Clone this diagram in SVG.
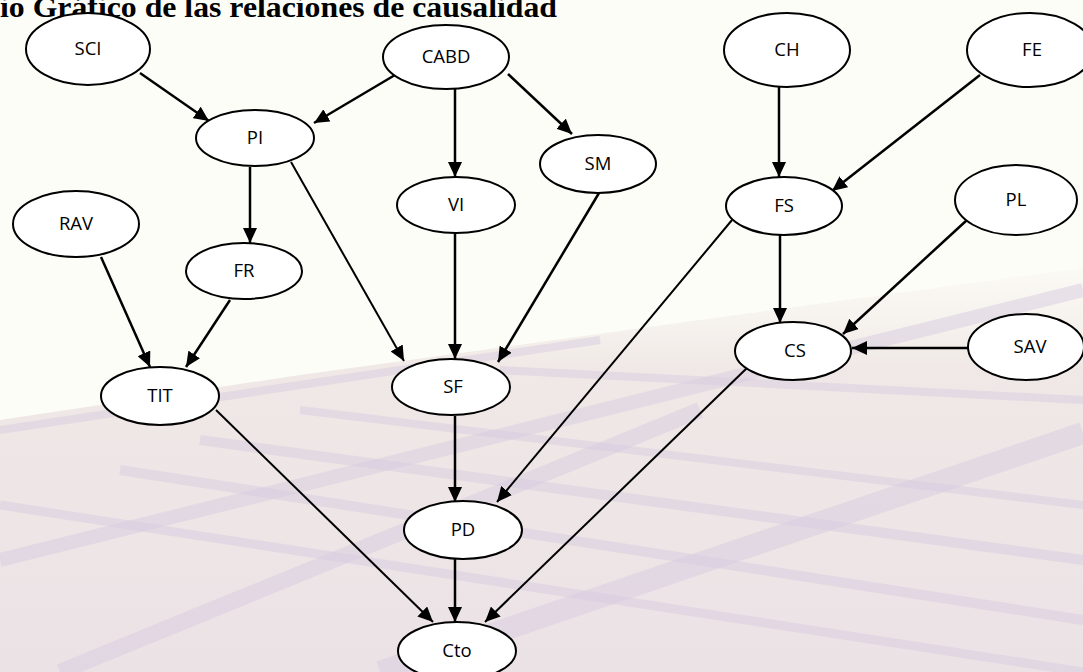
<svg xmlns="http://www.w3.org/2000/svg" width="1083" height="672" viewBox="0 0 1083 672">
<style>
.node ellipse{fill:#fff;stroke:#000;stroke-width:2}
.node text{font-family:"Open Sans","Noto Sans",sans-serif;font-size:18.5px;fill:#000;text-anchor:middle}
.edge{stroke:#000;stroke-width:2.5;fill:none;marker-end:url(#arr)}
.thin{stroke-width:2}
.band{fill:none;stroke:#d8cce0;stroke-opacity:0.5}
.title{font-family:"Liberation Serif","Times New Roman",serif;font-weight:bold;font-size:29px;fill:#000}
</style>
<defs>
<marker id="arr" markerUnits="userSpaceOnUse" markerWidth="16" markerHeight="14" refX="15" refY="7" orient="auto">
<path d="M0,0 L15,7 L0,14 z" fill="#000"/>
</marker>
<linearGradient id="fade" x1="0" y1="0" x2="0" y2="1">
<stop offset="0" stop-color="#f6f1ec" stop-opacity="0.3"/>
<stop offset="0.25" stop-color="#eee6e4" stop-opacity="0.9"/>
<stop offset="1" stop-color="#ebe2e6"/>
</linearGradient>
</defs>
<g id="background">
<rect x="0" y="0" width="1083" height="672" fill="#fdfdf8"/>
<polygon points="0,420 300,375 700,320 1083,268 1083,672 0,672" fill="url(#fade)"/>
<path class="band" stroke-width="22" d="M380,672 L1083,433"/>
<path class="band" stroke-width="14" d="M0,560 L1083,290"/>
<path class="band" stroke-width="10" d="M200,440 L1083,560"/>
<path class="band" stroke-width="10" d="M120,470 L1083,620"/>
<path class="band" stroke-width="8" d="M300,410 L1083,505"/>
<path class="band" stroke-width="8" d="M500,370 L1083,400"/>
<path class="band" stroke-width="9" d="M0,505 L1083,672"/>
<path class="band" stroke-width="16" d="M60,672 L700,410"/>
<path class="band" stroke-width="8" d="M0,430 L600,340"/>
</g>
<text class="title" x="0" y="17" textLength="557" lengthAdjust="spacingAndGlyphs">io Gráfico de las relaciones de causalidad</text>
<g id="connectors">
<line class="edge" x1="140" y1="73" x2="209" y2="121"/>
<line class="edge" x1="395" y1="75" x2="314" y2="123"/>
<line class="edge" x1="455" y1="89" x2="455" y2="177"/>
<line class="edge" x1="508" y1="74" x2="572" y2="134"/>
<line class="edge" x1="250" y1="167" x2="250" y2="243"/>
<line class="edge thin" x1="291" y1="162" x2="404" y2="361"/>
<line class="edge" x1="455" y1="234" x2="455" y2="359"/>
<line class="edge" x1="599" y1="193" x2="498" y2="362"/>
<line class="edge" x1="101" y1="257" x2="150" y2="367"/>
<line class="edge" x1="230" y1="300" x2="186" y2="367"/>
<line class="edge thin" x1="216" y1="410" x2="433" y2="622"/>
<line class="edge" x1="455" y1="416" x2="455" y2="502"/>
<line class="edge thin" x1="732" y1="220" x2="497" y2="502"/>
<line class="edge" x1="779" y1="87" x2="779" y2="177"/>
<line class="edge" x1="980" y1="75" x2="832" y2="191"/>
<line class="edge" x1="780" y1="235" x2="780" y2="323"/>
<line class="edge" x1="967" y1="220" x2="843" y2="334"/>
<line class="edge" x1="968" y1="348" x2="852" y2="348"/>
<line class="edge thin" x1="747" y1="368" x2="485" y2="622"/>
<line class="edge" x1="455" y1="559" x2="455" y2="622"/>
</g>
<g id="SCI" class="node"><ellipse cx="88" cy="49" rx="62" ry="36"/><text x="88" y="55">SCI</text></g>
<g id="CABD" class="node"><ellipse cx="446" cy="57" rx="63" ry="32"/><text x="446" y="63">CABD</text></g>
<g id="CH" class="node"><ellipse cx="787" cy="50" rx="63" ry="37"/><text x="787" y="56">CH</text></g>
<g id="FE" class="node"><ellipse cx="1030" cy="50" rx="63" ry="37"/><text x="1032" y="56">FE</text></g>
<g id="PI" class="node"><ellipse cx="255" cy="138" rx="59" ry="28"/><text x="255" y="144">PI</text></g>
<g id="SM" class="node"><ellipse cx="598" cy="164" rx="58" ry="29"/><text x="598" y="170">SM</text></g>
<g id="VI" class="node"><ellipse cx="456" cy="205" rx="59" ry="28"/><text x="456" y="211">VI</text></g>
<g id="FS" class="node"><ellipse cx="784" cy="206" rx="58" ry="29"/><text x="784" y="212">FS</text></g>
<g id="PL" class="node"><ellipse cx="1016" cy="200" rx="61" ry="35"/><text x="1016" y="206">PL</text></g>
<g id="RAV" class="node"><ellipse cx="76" cy="224" rx="63" ry="33"/><text x="76" y="230">RAV</text></g>
<g id="FR" class="node"><ellipse cx="244" cy="271" rx="58" ry="28"/><text x="244" y="277">FR</text></g>
<g id="CS" class="node"><ellipse cx="793" cy="351" rx="58" ry="29"/><text x="795" y="357">CS</text></g>
<g id="SAV" class="node"><ellipse cx="1026" cy="347" rx="58" ry="33"/><text x="1030" y="353">SAV</text></g>
<g id="TIT" class="node"><ellipse cx="160" cy="396" rx="59" ry="29"/><text x="160" y="402">TIT</text></g>
<g id="SF" class="node"><ellipse cx="451" cy="387" rx="59" ry="28"/><text x="453" y="393">SF</text></g>
<g id="PD" class="node"><ellipse cx="463" cy="530" rx="59" ry="29"/><text x="463" y="536">PD</text></g>
<g id="Cto" class="node"><ellipse cx="457" cy="651" rx="59" ry="29"/><text x="457" y="657">Cto</text></g>
</svg>
